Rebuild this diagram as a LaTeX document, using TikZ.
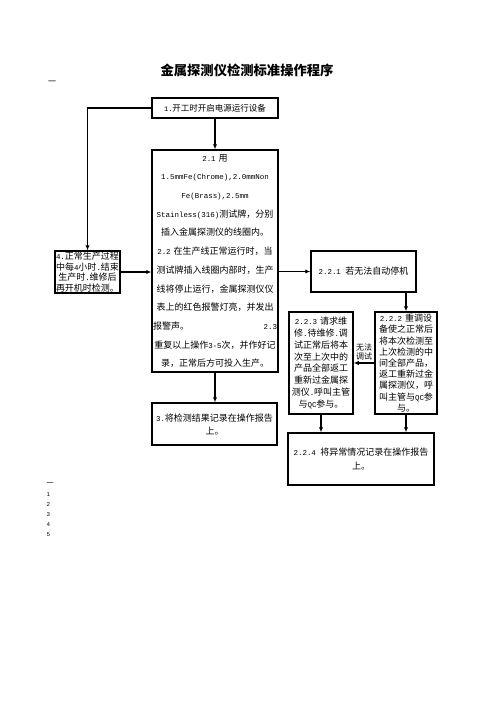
\documentclass[tikz,border=0pt]{standalone}
\usepackage{fontspec}
\setmainfont{Noto Sans CJK SC}
\newfontfamily\ascfont[Scale=0.83]{Liberation Mono}
\newcommand{\asc}[1]{{\ascfont #1}}
\usetikzlibrary{arrows.meta, positioning}

\begin{document}
\begin{tikzpicture}[
    x=1pt, y=-1pt,
    stepbox/.style={draw, line width=1.5pt, rectangle, inner sep=1pt, align=center, font=\fontsize{9}{12}\selectfont},
    line/.style={draw, -{Latex[length=5pt,width=4.5pt]}, line width=1.3pt},
    note/.style={inner sep=0pt, font=\fontsize{8}{9.5}\selectfont, align=center}
]
    \useasboundingbox (0,0) rectangle (496,702);

    % title and page marks
    \node[font=\fontsize{13.3}{14}\selectfont\bfseries] (title) at (247,70) {金属探测仪检测标准操作程序};
    \node[note] (marktop) at (52,83) {一};
    \node[note, align=left, font=\fontsize{7}{10.2}\selectfont\ascfont] (marklist) at (50,510)
        {\rmfamily 一\\1\\2\\3\\4\\5};

    % main column
    \node[stepbox, minimum width=126pt, minimum height=20pt, font=\fontsize{8.5}{10}\selectfont] (start) at (215,108)
        {\asc{1.}开工时开启电源运行设备};
    \node[stepbox, minimum width=126pt, minimum height=222pt, text width=124pt, font=\fontsize{9}{18.7}\selectfont] (check) at (215,261)
        {\asc{2.1 }用\\
         \asc{1.5mmFe(Chrome),2.0mmNon}\\
         \asc{Fe(Brass),2.5mm}\\
         \asc{Stainless(316)}测试牌，分别\\
         插入金属探测仪的线圈内。\\
         \asc{2.2 }在生产线正常运行时，当\\
         测试牌插入线圈内部时，生产\\
         线将停止运行，金属探测仪仪\\
         表上的红色报警灯亮，并发出\\
         报警声。\hfill\asc{2.3}\\
         重复以上操作\asc{3-5}次，并作好记\\
         录，正常后方可投入生产。};
    \node[stepbox, minimum width=65pt, minimum height=42pt, text width=63pt, font=\fontsize{9}{10.5}\selectfont] (routine) at (87.5,272)
        {\asc{4.}正常生产过程\\中每\asc{4}小时\asc{.}结束\\生产时\asc{.}维修后\\再开机时检测。};
    \node[stepbox, minimum width=125pt, minimum height=42pt, font=\fontsize{9}{13}\selectfont] (record) at (214.5,424)
        {\asc{3.}将检测结果记录在操作报告\\上。};

    % failure branch
    \node[stepbox, minimum width=105pt, minimum height=41pt] (nostop) at (363.5,271.5)
        {\asc{2.2.1 }若无法自动停机};
    \node[stepbox, minimum width=62pt, minimum height=102pt, text width=58pt, font=\fontsize{9}{11.2}\selectfont] (readjust) at (406,363)
        {\asc{2.2.2 }重调设\\备使之正常后\\将本次检测至\\上次检测的中\\间全部产品，\\返工重新过金\\属探测仪，呼\\叫主管与\asc{QC}参\\与。};
    \node[stepbox, minimum width=64pt, minimum height=102pt, text width=60pt, font=\fontsize{9}{11.8}\selectfont] (repair) at (321,363)
        {\asc{2.2.3 }请求维\\修\asc{.}待维修\asc{.}调\\试正常后将本\\次至上次中的\\产品全部返工\\重新过金属探\\测仪\asc{.}呼叫主管\\与\asc{QC}参与。};
    \node[stepbox, minimum width=146pt, minimum height=52pt, font=\fontsize{9}{14}\selectfont] (abnormal) at (361,459)
        {\asc{2.2.4 }将异常情况记录在操作报告\\上。};

    % connectors
    \draw[line] (start.west) -| (routine.north);
    \draw[line] (start.south) -- (check.north);
    \draw[line] (routine.east) -- (check.west |- routine.east);
    \draw[line] (check.east |- nostop.west) -- (nostop.west);
    \draw[line] (readjust.north |- nostop.south) -- (readjust.north);
    \draw[line] (readjust.west) -- (repair.east) node[note, midway, above=2pt] {无法\\调试};
    \draw[line] (check.south) -- (record.north -| check.south);
    \draw[line] (repair.south) -- (abnormal.north -| repair.south);
    \draw[line] (readjust.south) -- (abnormal.north -| readjust.south);
\end{tikzpicture}
\end{document}
